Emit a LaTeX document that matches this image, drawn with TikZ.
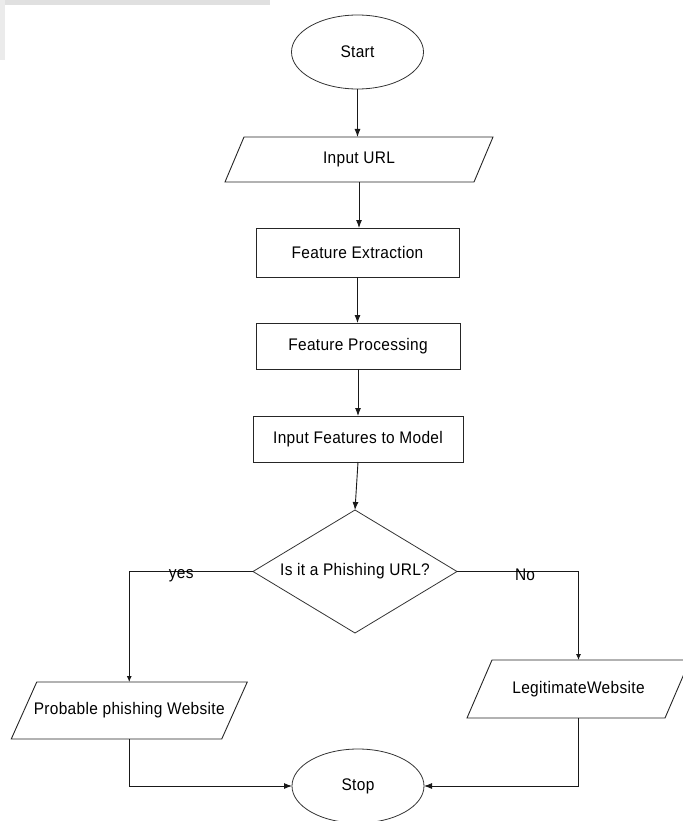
\documentclass[tikz,border=0pt]{standalone}
\usepackage{fontspec}
\setmainfont{Liberation Sans}[FakeStretch=0.92,LetterSpace=2]
\usetikzlibrary{shapes.geometric,arrows.meta,calc}
\begin{document}
\begin{tikzpicture}[x=1pt,y=-1pt,
  every node/.style={font=\fontsize{16.8}{19}\selectfont, text=black},
  line/.style={draw=black!90, line width=0.9pt},
  arr/.style={line, -{Latex[length=8pt,width=6pt]}},
  arrs/.style={line, -{Latex[length=6pt,width=5pt]}},
  termbox/.style={ellipse, draw=black!80, line width=0.8pt, inner sep=0pt, outer sep=0pt, minimum width=132pt, minimum height=74pt},
  procbox/.style={rectangle, draw=black!85, line width=0.9pt, inner sep=0pt, outer sep=0pt, minimum height=46pt},
  databox/.style={rectangle, draw=none, inner sep=0pt, outer sep=0pt},
  decbox/.style={diamond, draw=black!80, line width=0.8pt, inner sep=0pt, outer sep=0pt, aspect=1.66, minimum width=204pt, minimum height=123pt},
  paraline/.style={draw=black!85, line width=0.9pt, line join=miter}
]
\useasboundingbox (0,0) rectangle (682,821);
% faint background smudge of the source scan
\fill[black!12] (0,0) rectangle (270,5);
\fill[black!8] (0,0) rectangle (5,60);

\node[termbox] (start) at (357.5,52) {Start};
\node[databox, minimum width=249pt, minimum height=45pt] (url) at (359,159.5) {Input URL};
\node[procbox, minimum width=203pt, minimum height=49pt] (fe) at (357.5,252.5) {Feature Extraction};
\node[procbox, minimum width=204pt] (fp) at (358,346) {Feature Processing};
\node[procbox, minimum width=210pt] (ifm) at (358,439) {Input Features to Model};
\node[decbox] (dec) at (355,571.5) {Is it a Phishing URL?};
\node[databox, minimum width=210.5pt, minimum height=57pt] (prob) at (129.25,710.5) {Probable phishing Website};
\node[databox, minimum width=198pt, minimum height=58pt] (legit) at (578.5,689) {LegitimateWebsite};
\node[termbox] (stop) at (358,786) {Stop};

% parallelogram outlines
\draw[paraline] ($(url.north west)+(9.5,0)$) -- ($(url.north east)+(9.5,0)$) -- ($(url.south east)+(-9.5,0)$) -- ($(url.south west)+(-9.5,0)$) -- cycle;
\draw[paraline] ($(prob.north west)+(12.75,0)$) -- ($(prob.north east)+(12.75,0)$) -- ($(prob.south east)+(-12.75,0)$) -- ($(prob.south west)+(-12.75,0)$) -- cycle;
\draw[paraline] ($(legit.north west)+(12.5,0)$) -- ($(legit.north east)+(12.5,0)$) -- ($(legit.south east)+(-12.5,0)$) -- ($(legit.south west)+(-12.5,0)$) -- cycle;

% connectors
\draw[arr] (start.south) -- (start.south |- url.north);
\draw[arr] (url.south) -- (url.south |- fe.north);
\draw[arr] (fe.south) -- (fe.south |- fp.north);
\draw[arr] (fp.south) -- (fp.south |- ifm.north);
\draw[arr] (ifm.south) -- (dec.north);
\draw[arrs] (dec.west) -| node[pos=0.29, yshift=-4pt] {yes} (prob.north);
\draw[arrs] (dec.east) -| node[pos=0.28, yshift=-3pt] {No} (legit.north);
\draw[arr] (prob.south) |- (stop.west);
\draw[arr] (legit.south) |- (stop.east);
\end{tikzpicture}
\end{document}
